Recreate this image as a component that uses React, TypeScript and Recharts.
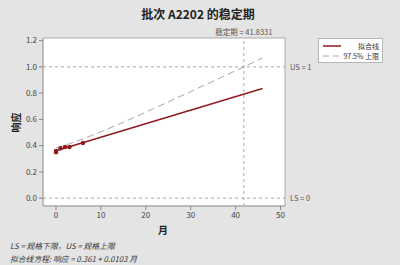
import React from "react";
import {
  ComposedChart,
  Line,
  Scatter,
  XAxis,
  YAxis,
  ReferenceLine,
  ReferenceArea,
  CartesianGrid,
} from "recharts";

const observedMonths = [0, 0, 1, 2, 3, 6];
const observedResponse = [0.35, 0.36, 0.38, 0.39, 0.39, 0.42];

const fitMonths = [0, 46];
const fitResponse = [0.361, 0.835];

const upperMonths = [0, 3, 6, 10, 15, 20, 25, 30, 35, 41.8331, 46];
const upperResponse = [0.383, 0.415, 0.451, 0.505, 0.578, 0.655, 0.733, 0.812, 0.891, 1.0, 1.068];

const xTicks = [0, 10, 20, 30, 40, 50];
const yTicks = [0, 0.2, 0.4, 0.6, 0.8, 1.0, 1.2];

const shelfLife = 41.8331;
const upperSpec = 1;
const lowerSpec = 0;

const observed = observedMonths.map((m, i) => ({ month: m, y: observedResponse[i] }));
const fit = fitMonths.map((m, i) => ({ month: m, y: fitResponse[i] }));
const upper = upperMonths.map((m, i) => ({ month: m, y: upperResponse[i] }));

const FONT = "'Noto Sans CJK SC', 'Noto Sans', sans-serif";
const RED = "#8e1b1f";
const GRAY = "#a8a8a8";

const LegendBox = () => (
  <div
    style={{
      position: "absolute",
      left: 318,
      top: 38,
      width: 65,
      height: 25,
      background: "#fff",
      border: "1px solid #b5b5b5",
      fontFamily: FONT,
      fontSize: 7,
      color: "#333",
      boxSizing: "border-box",
      padding: "2px 3px",
      lineHeight: "10px",
      whiteSpace: "nowrap",
    }}
  >
    <div style={{ display: "flex", alignItems: "center", justifyContent: "space-between" }}>
      <svg width={20} height={6}>
        <line x1={1} y1={3} x2={19} y2={3} stroke={RED} strokeWidth={1.5} />
      </svg>
      <span>拟合线</span>
    </div>
    <div style={{ display: "flex", alignItems: "center", justifyContent: "space-between" }}>
      <svg width={20} height={6}>
        <line x1={1} y1={3} x2={19} y2={3} stroke={GRAY} strokeWidth={1} strokeDasharray="6 4" />
      </svg>
      <span>97.5% 上限</span>
    </div>
  </div>
);

export default function App() {
  return (
    <div
      style={{
        position: "absolute",
        left: 0,
        top: 0,
        width: 400,
        height: 265,
        background: "#e4e4e4",
        fontFamily: FONT,
        overflow: "hidden",
      }}
    >
      <div
        style={{
          position: "absolute",
          top: 5,
          left: 0,
          width: 400,
          textAlign: "center",
          fontSize: 12,
          fontWeight: "bold",
          color: "#222",
        }}
      >
        <span style={{ position: "relative", left: -2 }}>批次 A2202 的稳定期</span>
      </div>
      <ComposedChart
        width={400}
        height={265}
        margin={{ top: 38, right: 115, bottom: 39, left: 13 }}
        style={{ position: "absolute", left: 0, top: 0 }}
      >
        <CartesianGrid fill="#ffffff" stroke="none" horizontal={false} vertical={false} />
        <XAxis
          type="number"
          dataKey="month"
          domain={[-2.9, 51]}
          ticks={xTicks}
          allowDataOverflow
          height={20}
          tick={{ fontSize: 8, fill: "#444", fontFamily: FONT }}
          tickSize={4}
          tickLine={{ stroke: "#888" }}
          axisLine={{ stroke: "#aaa" }}
        />
        <YAxis
          type="number"
          dataKey="y"
          domain={[-0.06, 1.22]}
          ticks={yTicks}
          allowDataOverflow
          width={30}
          tickFormatter={(v: number) => v.toFixed(1)}
          tick={{ fontSize: 8, fill: "#444", fontFamily: FONT }}
          tickSize={4}
          tickLine={{ stroke: "#888" }}
          axisLine={{ stroke: "#aaa" }}
        />
        <ReferenceArea
          x1={-2.9}
          x2={51}
          y1={-0.06}
          y2={1.22}
          fill="none"
          stroke="#aaa"
          strokeWidth={1}
        />
        <ReferenceLine
          y={upperSpec}
          stroke={GRAY}
          strokeDasharray="3 3"
          label={{ value: "US = 1", position: "right", fontSize: 7.5, fill: "#555", fontFamily: FONT, offset: 5 }}
        />
        <ReferenceLine
          y={lowerSpec}
          stroke={GRAY}
          strokeDasharray="3 3"
          label={{ value: "LS = 0", position: "right", fontSize: 7.5, fill: "#555", fontFamily: FONT, offset: 5 }}
        />
        <ReferenceLine
          x={shelfLife}
          stroke={GRAY}
          strokeDasharray="3 3"
          label={{ value: "稳定期 = 41.8331", position: "top", fontSize: 7.5, fill: "#555", fontFamily: FONT, offset: 3 }}
        />
        <Line
          data={upper}
          dataKey="y"
          type="linear"
          stroke={GRAY}
          strokeWidth={1}
          strokeDasharray="7 4"
          dot={false}
          isAnimationActive={false}
        />
        <Line
          data={fit}
          dataKey="y"
          type="linear"
          stroke={RED}
          strokeWidth={1.5}
          dot={false}
          isAnimationActive={false}
        />
        <Scatter
          data={observed}
          dataKey="y"
          fill={RED}
          shape={(p: any) => <circle cx={p.cx} cy={p.cy} r={2.2} fill={RED} />}
          isAnimationActive={false}
        />
      </ComposedChart>
      <LegendBox />
      <div
        style={{
          position: "absolute",
          left: 0,
          top: 42,
          width: 30,
          height: 160,
          display: "flex",
          alignItems: "center",
          justifyContent: "center",
        }}
      >
        <div style={{ transform: "rotate(-90deg)", fontSize: 10, fontWeight: "bold", color: "#222", whiteSpace: "nowrap" }}>
          响应
        </div>
      </div>
      <div
        style={{
          position: "absolute",
          left: 158,
          top: 222,
          fontSize: 10,
          fontWeight: "bold",
          color: "#222",
        }}
      >
        月
      </div>
      <div
        style={{
          position: "absolute",
          left: 10,
          top: 240,
          fontSize: 7.8,
          fontStyle: "italic",
          color: "#333",
          lineHeight: "12.5px",
          whiteSpace: "nowrap",
        }}
      >
        <div>LS = 规格下限，US = 规格上限</div>
        <div>拟合线方程: 响应 = 0.361 + 0.0103 月</div>
      </div>
    </div>
  );
}
